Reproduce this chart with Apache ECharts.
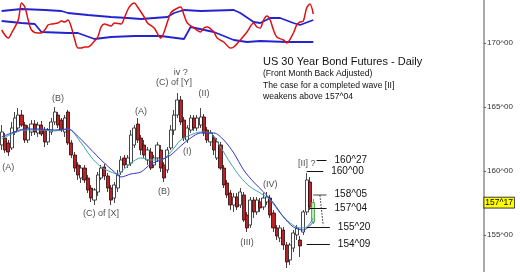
<!DOCTYPE html>
<html><head><meta charset="utf-8">
<script src="https://cdn.jsdelivr.net/npm/echarts@6/dist/echarts.min.js"></script>
<style>html,body{margin:0;padding:0;background:#fff}#c{width:520px;height:272px}</style>
</head><body><div id="c"></div>
<script>
// ---- data ----
const dayCount = 146;               // trading-day slots on the x axis (95 drawn)
const categories = Array.from({length: dayCount}, (_, i) => String(i));
// [open, close, low, high]
const candles = [
[162.03,163.05,161.64,163.59],[162.58,161.64,161.41,162.97],[162.19,161.48,161.17,162.42],[161.80,163.36,161.64,163.83],
[163.05,164.14,162.81,164.61],[163.36,164.37,163.20,164.92],[164.37,163.59,163.44,164.77],[163.59,162.42,162.19,163.83],
[162.42,163.36,162.19,163.59],[163.05,163.67,162.73,163.98],[163.67,163.05,162.81,163.98],[162.97,163.59,162.66,163.83],
[163.59,162.89,162.73,163.91],[163.20,162.27,161.87,163.44],[162.27,163.20,162.03,163.36],[163.05,163.83,162.81,164.14],
[163.83,164.61,163.59,165.00],[164.37,163.59,163.36,164.61],[163.98,163.20,163.05,164.14],[163.05,164.14,162.66,164.37],
[164.61,162.19,162.03,164.77],[162.19,161.25,161.02,162.42],[161.25,160.23,159.92,161.48],[160.47,159.69,159.30,160.70],
[159.45,160.23,159.06,160.47],[160.23,159.30,159.06,160.47],[159.45,158.52,158.28,159.69],[158.67,157.89,157.58,158.91],
[157.73,158.52,157.34,158.67],[158.36,159.69,158.05,159.92],[159.45,160.23,159.30,160.47],[160.31,159.61,159.30,160.55],
[159.61,158.67,158.36,159.84],[158.67,157.73,157.34,158.91],[157.89,158.91,157.50,159.14],[158.67,159.69,158.36,160.08],
[159.92,160.86,159.69,161.17],[161.02,160.47,160.23,161.25],[160.47,161.02,160.23,161.25],[160.62,162.81,160.39,163.20],
[162.03,163.36,161.80,163.59],[163.67,162.42,162.19,164.14],[162.58,161.64,161.25,162.81],[162.03,161.25,161.02,162.42],
[160.86,161.64,160.47,161.87],[161.48,160.23,160.08,161.80],[160.47,161.02,160.23,161.25],[161.02,162.03,160.70,162.27],
[161.64,160.23,159.92,162.03],[160.47,159.45,159.14,160.70],[160.08,161.64,159.84,161.87],[161.80,163.20,161.64,163.59],
[163.20,164.37,162.81,164.77],[164.37,165.55,164.14,166.09],[165.55,163.83,163.59,165.86],[163.98,162.58,162.34,164.22],
[162.42,163.36,162.19,163.59],[163.20,164.14,162.97,164.37],[164.14,163.36,163.13,164.37],[163.36,164.14,163.13,164.37],
[163.59,164.22,163.36,164.92],[164.22,162.97,162.73,164.45],[163.20,162.42,162.19,163.44],[162.27,162.97,161.95,163.20],
[162.58,161.64,161.25,162.81],[161.02,162.27,160.86,162.58],[162.03,160.23,160.08,162.27],[160.23,158.91,158.67,160.47],
[159.06,158.13,157.89,159.30],[158.28,157.34,156.95,158.52],[157.34,157.97,156.80,158.28],[157.97,157.19,156.95,158.28],
[157.34,158.36,157.11,158.67],[158.13,156.17,156.02,158.36],[156.56,155.55,155.23,156.80],[155.78,157.73,155.55,157.97],
[157.73,156.80,156.33,157.97],[156.80,157.73,156.56,157.97],[157.58,157.11,156.80,157.89],[157.19,157.89,156.95,158.28],
[157.58,157.97,157.34,158.36],[157.89,156.56,156.33,158.13],[156.72,155.55,155.23,156.95],[155.55,154.92,154.61,155.78],
[154.77,155.55,154.45,155.78],[155.39,154.22,153.83,155.62],[154.22,152.89,152.42,154.45],[153.05,154.22,152.66,154.38],
[153.98,155.16,153.67,155.39],[155.00,155.55,154.61,155.78],[154.61,154.14,153.28,154.92],[155.23,156.80,155.00,156.95],
[156.80,159.30,156.56,159.84],[159.14,157.19,156.95,159.53],[156.02,157.53,155.86,157.81]
];
const lastPrice = 157.53;           // 157^17
const priceMin = 152.109, priceMax = 173.359;
const priceTicks = [155, 160, 165, 170];
const maSlow = [[0,162.66],[3,162.97],[7,163.28],[12,163.28],[16,163.20],[20,163.28],[21,163.20],[25,162.19],[30,160.86],[34,159.92],[36,159.53],[39,159.77],[42,159.92],[45,160.55],[48,160.86],[51,161.25],[54,161.95],[57,162.58],[60,162.97],[64,162.97],[67,162.42],[70,161.41],[73,160.08],[76,159.14],[79,158.36],[82,157.50],[85,156.41],[88,155.62],[91,155.39],[94,156.02]];
const maFast = [[0,162.50],[3,162.89],[7,163.20],[12,163.20],[16,163.13],[20,163.28],[24,162.19],[27,161.09],[30,160.31],[33,159.92],[35,159.77],[36,159.92],[39,160.62],[42,161.02],[45,160.86],[48,160.86],[51,161.48],[54,162.42],[57,162.81],[60,163.05],[63,162.97],[66,161.87],[69,160.62],[72,159.53],[75,158.75],[78,158.28],[81,157.73],[84,156.72],[87,155.94],[90,155.55],[92,155.62],[94,156.33]];
const oscillator = [[0,20],[2,12],[3,17],[5,30],[6,47],[7,43],[8,30],[9,20],[11,17],[12,17],[13,20],[14,25],[15,26],[17,27],[18,29],[19,28],[20,30],[21,23],[22,11],[23,2],[24,2],[25,3],[26,3],[28,9],[29,13],[30,23],[31,26],[33,24],[34,27],[36,26],[37,32],[38,40],[39,45],[40,47],[41,43],[43,33],[44,27],[46,22],[48,12],[49,18],[50,28],[51,37],[52,40],[54,43],[55,35],[56,27],[58,22],[60,18],[61,22],[62,23],[64,18],[65,12],[67,8],[69,2],[70,3],[72,10],[74,18],[76,27],[77,23],[78,22],[79,30],[80,34],[81,30],[82,20],[83,13],[85,10],[86,7],[88,17],[89,25],[90,28],[91,29],[92,42],[93,46],[94,36]];
const bandUpper = [[0,39],[3,40],[6,41],[13,40],[18,39],[20,37],[26,35],[33,33],[38,32],[42,31],[50,33],[52,37],[55,40],[60,39],[70,40],[72,37],[76,28],[78,27],[81,32],[84,32],[88,27],[90,25],[94,30]];
const bandLower = [[0,29],[6,27],[10,26],[12,18],[20,17],[23,17],[28,11],[33,13],[40,14],[48,14],[55,11],[57,23],[64,18],[70,10],[74,8],[78,9],[86,8],[94,8]];
const levelPrices = [160.84, 160.00, 158.156, 157.125, 155.625, 154.28];
const levelLabels = ['160^27','160^00','158^05','157^04','155^20','154^09'];
const levelDays = [[95,98],[92,97],[94,98],[93,98],[92,99],[92,99]];
const projection = [[96,158.10],[97,155.75]];
const waveLabels = [[2,160.31,'(A)'],[17,165.66,'(B)'],[30,156.64,'(C) of [X]'],[42,164.61,'(A)'],[49,158.36,'(B)'],[52,166.95,'(C) of [Y]'],[54,167.73,'iv ?'],[56,161.56,'(I)'],[61,166.09,'(II)'],[74,154.38,'(III)'],[81,158.98,'(IV)'],[92,160.62,'[II] ?']];
const titleLines = ['US 30 Year Bond Futures - Daily','(Front Month Back Adjusted)','The case for a completed wave [II]','weakens above 157^04'];

// ---- chart ----
const FONT = '"Liberation Sans", Arial, sans-serif';
function fmt32(v){ const w=Math.floor(v+1e-9); let t=Math.round((v-w)*32); return w+'^'+(t<10?'0':'')+t; }
const chart = echarts.init(document.getElementById('c'), null, {renderer:'canvas'});
const candleData = candles.map((c,i)=> i===candles.length-1
  ? {value:c, itemStyle:{color:'#b6ecb0', borderColor:'#3a9a3a'}} : c);
const levelLines = levelPrices.map((p,i)=>[
  {coord:[levelDays[i][0],p], lineStyle:{color: i===2?'#8a8a8a':'#111', width: i===2?1.6:1, type:'solid'},
   label:{show:true, position:'end', formatter: levelLabels[i], distance: 8, fontSize:10, fontFamily:FONT, color:'#111'}},
  {coord:[levelDays[i][1],p]}
]);
levelLines.push([{coord:projection[0], lineStyle:{color:'#222', width:1, type:[1.5,1.5]}, label:{show:false}},{coord:projection[1]}]);

chart.setOption({
  animation:false,
  backgroundColor:'#fff',
  grid:[{left:0,right:36,top:0,bottom:0},{left:0,right:36,top:0,height:50}],
  xAxis:[
    {type:'category', data:categories, gridIndex:0, show:false, boundaryGap:true},
    {type:'category', data:categories, gridIndex:1, show:false, boundaryGap:true}
  ],
  yAxis:[
    {type:'value', gridIndex:0, position:'right', min:priceMin, max:priceMax,
     axisLine:{show:true, lineStyle:{color:'#8c8c8c', width:1.5}},
     axisTick:{show:true, length:2, customValues:priceTicks, lineStyle:{color:'#555'}},
     splitLine:{show:false},
     axisLabel:{fontSize:8, fontFamily:FONT, color:'#333', margin:3, customValues:priceTicks, formatter:v=>fmt32(v)}},
    {type:'value', gridIndex:1, min:0, max:50, show:false}
  ],
  graphic: titleLines.map((t,i)=>({type:'text', x:263, y:[62,74,86,97][i], silent:true,
    style:{text:t, fill:'#111', font:(i===0?'11px ':'8.6px ')+FONT, verticalAlign:'middle'}})),
  series:[
    {type:'line', xAxisIndex:1, yAxisIndex:1, data:bandUpper, symbol:'none', lineStyle:{color:'#2323d2', width:1.8}, z:2},
    {type:'line', xAxisIndex:1, yAxisIndex:1, data:bandLower, symbol:'none', lineStyle:{color:'#2323d2', width:1.8}, z:2},
    {type:'line', xAxisIndex:1, yAxisIndex:1, data:oscillator, symbol:'none', smooth:0.3, lineStyle:{color:'#e01010', width:1.5}, z:3},
    {type:'candlestick', xAxisIndex:0, yAxisIndex:0, data:candleData, barWidth:3.6,
     itemStyle:{color:'#ffffff', color0:'#bb2228', borderColor:'#1a1a1a', borderColor0:'#2a0a0a', borderWidth:0.8},
     markLine:{symbol:['none','none'], silent:true, animation:false, data:levelLines},
     markPoint:{symbol:'rect', symbolSize:0.01, silent:true, data:[{coord:[dayCount-1,lastPrice],
       label:{show:true, position:'right', distance:2, formatter:fmt32(lastPrice), backgroundColor:'#ffff00',
         borderColor:'#222', borderWidth:0.8, padding:[1,1,0,1], fontSize:8.5, fontFamily:FONT, color:'#000'}}]}},
    {type:'line', xAxisIndex:0, yAxisIndex:0, data:maFast, symbol:'none', smooth:0.3, lineStyle:{color:'#3da3a8', width:1}, z:3},
    {type:'line', xAxisIndex:0, yAxisIndex:0, data:maSlow, symbol:'none', smooth:0.3, lineStyle:{color:'#3434c8', width:1}, z:3},
    {type:'scatter', xAxisIndex:0, yAxisIndex:0, symbolSize:1, itemStyle:{color:'rgba(0,0,0,0)'}, z:5,
     data: waveLabels.map(w=>({value:[w[0],w[1]], label:{formatter:w[2]}})),
     label:{show:true, position:'inside', fontSize:9, fontFamily:FONT, color:'#222'}}
  ]
});
</script></body></html>
